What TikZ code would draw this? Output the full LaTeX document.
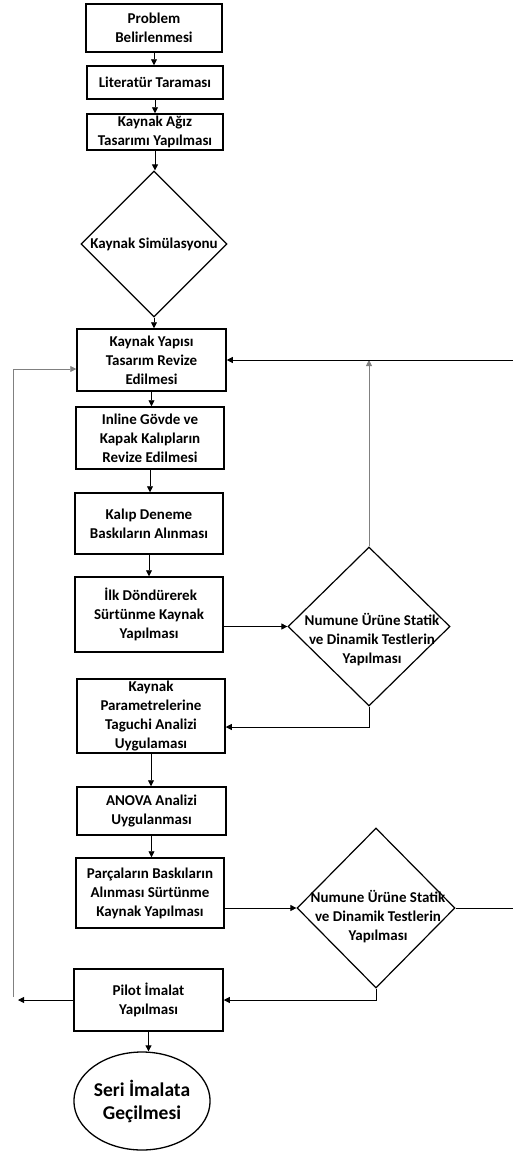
\documentclass[tikz,border=0pt]{standalone}
\usepackage{fontspec}
\setmainfont{Carlito}
\usetikzlibrary{shapes.geometric,arrows.meta}
\begin{document}
\begin{tikzpicture}[x=1pt,y=-1pt,
  txt/.style={align=center,font=\bfseries\fontsize{15}{19}\selectfont},
  box/.style={txt,draw,line width=1.5pt,rectangle,inner sep=0pt},
  dia/.style={draw,line width=1.2pt,diamond,inner sep=0pt},
  arr/.style={-{Triangle[length=6pt,width=6pt]},line width=0.8pt},
  garr/.style={arr,draw=gray}]
\useasboundingbox (0,0) rectangle (513,1151);
\node[box,minimum width=136pt,minimum height=48pt] (b1) at (154,28) {Problem\\Belirlenmesi};
\node[box,minimum width=136pt,minimum height=33pt] (b2) at (155,82.5) {Literatür Taraması};
\node[box,minimum width=136pt,minimum height=36pt] (b3) at (155,132) {Kaynak Ağız\\Tasarımı Yapılması};
\node[dia,minimum width=146pt,minimum height=146pt] (d1) at (154,244) {};
\node[txt] (d1t) at (d1) {Kaynak Simülasyonu};
\node[box,minimum width=149pt,minimum height=62pt] (b4) at (151.5,360) {Kaynak Yapısı\\Tasarım Revize\\Edilmesi};
\node[box,minimum width=148pt,minimum height=62pt] (b5) at (150,438) {Inline Gövde ve\\Kapak Kalıpların\\Revize Edilmesi};
\node[box,minimum width=148pt,minimum height=61pt] (b6) at (149,523.5) {Kalıp Deneme\\Baskıların Alınması};
\node[box,minimum width=148pt,minimum height=75pt] (b7) at (149,614.5) {\ İlk Döndürerek\\Sürtünme Kaynak\\Yapılması};
\node[dia,minimum width=162pt,minimum height=159pt] (d2) at (369,626.5) {};
\node[txt] (d2t) at (372,640) {Numune Ürüne Statik\\ve Dinamik Testlerin\\Yapılması};
\node[box,minimum width=148pt,minimum height=74pt] (b8) at (151,716) {Kaynak\\Parametrelerine\\Taguchi Analizi\\Uygulaması};
\node[box,minimum width=149pt,minimum height=48pt] (b9) at (151.5,811) {ANOVA Analizi\\Uygulanması};
\node[box,minimum width=148pt,minimum height=70pt] (b10) at (150,893) {Parçaların Baskıların\\Alınması Sürtünme\\Kaynak Yapılması};
\node[dia,minimum width=158pt,minimum height=160pt] (d3) at (376,908) {};
\node[txt] (d3t) at (378,917) {Numune Ürüne Statik\\ve Dinamik Testlerin\\Yapılması};
\node[box,minimum width=149pt,minimum height=62pt] (b11) at (148.5,1000) {Pilot İmalat\\Yapılması};
\node[draw,ellipse,line width=1.3pt,inner sep=0pt,minimum width=124pt,minimum height=98pt,align=center,
  font=\bfseries\fontsize{19.5}{23}\selectfont] (e) at (142,1101) {Seri İmalata\\Geçilmesi};
\coordinate (redge) at (515,360);
\coordinate (lend) at (18,1000);
\coordinate (lstart) at (13,997);
% main flow
\draw[arr] (b1.south) -- (b1.south |- b2.north);
\draw[arr] (b2.south) -- (b2.south |- b3.north);
\draw[arr] (b3.south) -- (b3.south |- d1.north);
\draw[arr] (d1.south) -- (d1.south |- b4.north);
\draw[arr] (b4.south) -- (b4.south |- b5.north);
\draw[arr] (b5.south) -- (b5.south |- b6.north);
\draw[arr] (b6.south) -- (b6.south |- b7.north);
\draw[arr] (b7.east |- d2.west) -- (d2.west);
\draw[garr] (d2.north) -- (d2.north |- b4.east);
\draw[arr] (d2.south) |- ([yshift=-11pt]b8.east);
\draw[arr] (b8.south) -- (b8.south |- b9.north);
\draw[arr] (b9.south) -- (b9.south |- b10.north);
\draw[arr] (b10.east |- d3.west) -- (d3.west);
\draw[arr] (d3.east) -- (d3.east -| redge) -- (redge) -- (b4.east);
\draw[arr] (d3.south) |- (b11.east);
\draw[arr] (b11.west) -- (lend);
\draw[garr] (lstart) |- ([yshift=-9pt]b4.west);
\draw[arr] (b11.south) -- (b11.south |- e.north);
\end{tikzpicture}
\end{document}
